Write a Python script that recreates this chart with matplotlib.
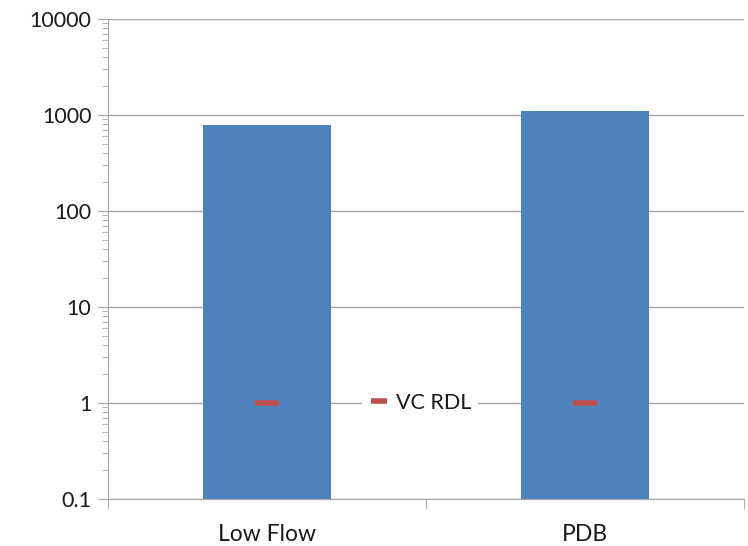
import numpy as np
import matplotlib
matplotlib.use("Agg")
import matplotlib.pyplot as plt
from matplotlib.ticker import LogLocator, FixedLocator, NullFormatter, FuncFormatter

plt.rcParams['font.family'] = ['Lato', 'DejaVu Sans']

categories = ['Low Flow', 'PDB']
values = [790, 1100]          # bar heights
rdl_values = [1, 1]           # VC RDL markers
rdl_label = 'VC RDL'

fig = plt.figure(figsize=(7.48, 5.46), dpi=100)
ax = fig.add_axes([108/748, 1 - 499/546, 636/748, 480/546])

x = np.arange(len(categories))
ax.bar(x, values, width=0.4, color='#4F81BD', zorder=2)
ax.plot(x, rdl_values, linestyle='none', marker='_', markersize=17,
        markeredgewidth=4, color='#C0504D', label=rdl_label, zorder=3)

ax.set_yscale('log')
ax.set_ylim(0.1, 10000)
ax.set_xlim(-0.5, len(categories) - 0.5)

# y axis: decades, plain numbers
ax.yaxis.set_major_locator(LogLocator(base=10, numticks=10))
ax.yaxis.set_major_formatter(FuncFormatter(lambda v, p: f'{v:g}'))
ax.yaxis.set_minor_locator(LogLocator(base=10, subs=np.arange(2, 10), numticks=10))
ax.yaxis.set_minor_formatter(NullFormatter())
ax.grid(True, axis='y', which='major', color='#A6A6A6', linewidth=1, zorder=0)

# x axis: ticks between categories, labels at centres
ax.set_xticks(x)
ax.set_xticklabels(categories)
ax.xaxis.set_minor_locator(FixedLocator([-0.5, 0.5, 1.5]))
ax.tick_params(axis='x', which='major', length=0, pad=18, labelsize=16.5, labelcolor='#1a1a1a')
ax.tick_params(axis='x', which='minor', length=7, color='#A6A6A6')
ax.tick_params(axis='y', which='major', length=7, color='#A6A6A6', labelsize=15.5,
               pad=5, labelcolor='#1a1a1a')
ax.tick_params(axis='y', which='minor', length=4, color='#A6A6A6')

for s in ['top', 'right']:
    ax.spines[s].set_visible(False)
for s in ['left', 'bottom']:
    ax.spines[s].set_color('#A6A6A6')

leg = ax.legend(loc='center', bbox_to_anchor=(0.49, 0.2), frameon=True,
                fontsize=15.5, handlelength=1.0, handletextpad=0.3,
                borderpad=0.3, fancybox=False, labelcolor='#1a1a1a')
leg.get_frame().set_facecolor('white')
leg.get_frame().set_edgecolor('none')
leg.get_frame().set_alpha(1)
for h in leg.legend_handles:
    h.set_markersize(12)

fig.savefig('out.png', dpi=100)
